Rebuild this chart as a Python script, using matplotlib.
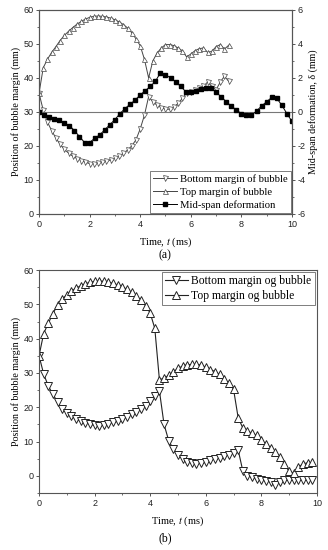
import numpy as np
import matplotlib
matplotlib.use("Agg")
import matplotlib.pyplot as plt
from matplotlib.ticker import MultipleLocator

plt.rcParams['font.family'] = ['Liberation Serif', 'DejaVu Serif']
plt.rcParams['mathtext.fontset'] = 'stix'
plt.rcParams['axes.unicode_minus'] = False

# ---- panel (a) data ----
a_top = [35.5, 43, 45.5, 47.5, 49.2, 51, 52.5, 53.7, 54.8, 55.8, 56.6, 57.3,
         57.8, 58.1, 58.2, 58.1, 57.9, 57.6, 57.1, 56.5, 55.7, 54.7, 53.3, 51.5,
         49.5, 45.5, 40, 45, 47.3, 48.8, 49.8, 49.8, 49.5, 48.8, 48, 46.2,
         47, 48, 48.6, 48.8, 47.5, 47.8, 49.2, 49.8, 48.5, 49.6]
a_bottom = [35.5, 30.5, 27, 24.5, 22.3, 20.5, 19, 17.9, 17, 16.3, 15.7, 15.2,
            14.8, 14.8, 15, 15.2, 15.5, 15.9, 16.4, 17, 17.8, 18.8, 20, 21.8,
            25, 29, 34.5, 33, 32, 31.3, 30.8, 30.8, 31.5, 32.5, 34, 35.5,
            36, 36.5, 37, 37.5, 38.8, 37.5, 36.5, 38.8, 40.5, 39]
a_mid = [0.0, -0.2, -0.3, -0.42, -0.5, -0.65, -0.8, -1.1, -1.45, -1.8, -1.8,
         -1.55, -1.35, -1.05, -0.75, -0.45, -0.1, 0.2, 0.45, 0.7, 1.0, 1.25,
         1.5, 1.8, 2.3, 2.2, 2.0, 1.78, 1.5, 1.2, 1.15, 1.25, 1.35, 1.43, 1.4,
         1.15, 0.9, 0.6, 0.35, 0.12, -0.1, -0.2, -0.2, 0.05, 0.35, 0.6, 0.85,
         0.8, 0.4, -0.1, -0.55]

# ---- panel (b) data ----
b_top = [35, 41.5, 44.5, 47.3, 49.8, 51.5, 52.8, 53.9, 54.7, 55.4, 56, 56.4,
         56.7, 56.8, 56.7, 56.5, 56.1, 55.7, 55.1, 54.4, 53.5, 52.5, 51.2, 49.6,
         47.5, 43, 28, 28.5, 29.3, 30.3, 31.3, 32, 32.4, 32.5, 32.5, 32.3,
         31.7, 31, 30.4, 29.6, 28.2, 27, 25.3, 17, 14, 13, 12.5, 11.8,
         10.5, 9.2, 8.2, 7, 5.5, 3.5, 1.3, 0.8, 2.5, 3.5, 3.8, 3.9]
b_bottom = [35, 29.7, 26.2, 23.8, 21.5, 19.6, 18.3, 17.4, 16.5, 15.9, 15.5, 15.1,
            14.7, 14.6, 14.9, 15.2, 15.6, 15.9, 16.5, 17.2, 18, 18.6, 19.6, 20.5,
            21.8, 23.3, 24.8, 15, 10.3, 7.8, 6.2, 5, 4.1, 3.7, 3.5, 3.7,
            3.9, 4.5, 4.9, 5.3, 5.7, 6.1, 6.6, 7.6, 1.5, 0.1, -0.4, -0.8,
            -1.2, -1.4, -1.8, -2.6, -1.8, -1.3, -1.2, -1.2, -1.2, -1.2, -1.2, -1.2]

frame = '#555555'


def style_axis(ax):
    for s in ax.spines.values():
        s.set_color(frame)
        s.set_linewidth(0.8)
    ax.tick_params(which='both', direction='out', colors=frame, labelcolor='#222222',
                   labelsize=6.5, pad=1.5)
    ax.tick_params(which='major', length=2.5, width=0.7)
    ax.tick_params(which='minor', length=1.5, width=0.6)
    ax.xaxis.set_major_locator(MultipleLocator(2))
    ax.xaxis.set_minor_locator(MultipleLocator(1))
    for lab in ax.get_xticklabels() + ax.get_yticklabels():
        lab.set_family('Liberation Sans')


fig = plt.figure(figsize=(3.28, 5.5), dpi=100)

# panel (a)
ax1 = fig.add_axes([0.119, 0.611, 0.771, 0.371])
t_a = np.arange(len(a_top)) / 6.0
t_mid = np.arange(len(a_mid)) * 0.2
l1, = ax1.plot(t_a, a_bottom, color='#444444', lw=0.7, marker='v', ms=3.6,
               mfc='white', mec='#444444', mew=0.5, label='Bottom margin of bubble')
l2, = ax1.plot(t_a, a_top, color='#444444', lw=0.7, marker='^', ms=3.6,
               mfc='white', mec='#444444', mew=0.5, label='Top margin of bubble')
ax1.set_xlim(0, 10)
ax1.set_ylim(0, 60)
ax1.yaxis.set_major_locator(MultipleLocator(10))
ax1.yaxis.set_minor_locator(MultipleLocator(5))
style_axis(ax1)
ax1.set_ylabel('Position of bubble margin (mm)', fontsize=7.2, labelpad=2)
ax1.set_xlabel('Time, $t$ (ms)', fontsize=7.5, labelpad=5)

ax1r = ax1.twinx()
ax1r.axhline(0, color='#777777', lw=0.8)
l3, = ax1r.plot(t_mid, a_mid, color='black', lw=0.7, marker='s', ms=3.2,
                mfc='black', mec='black', label='Mid-span deformation')
ax1r.set_ylim(-6, 6)
ax1r.yaxis.set_major_locator(MultipleLocator(2))
ax1r.yaxis.set_minor_locator(MultipleLocator(1))
style_axis(ax1r)
ax1r.set_ylabel('Mid-span deformation, δ (mm)', fontsize=7.2, labelpad=2)
leg = ax1r.legend(handles=[l1, l2, l3], loc='lower right', fontsize=7.7,
                  frameon=True, fancybox=False, edgecolor='#444444',
                  borderpad=0.3, labelspacing=0.3, handlelength=2.2,
                  handletextpad=0.3, borderaxespad=0.1)
leg.get_frame().set_linewidth(0.6)
fig.text(0.503, 0.535, '(a)', ha='center', va='center', fontsize=8.5)

# panel (b)
ax2 = fig.add_axes([0.119, 0.1036, 0.847, 0.4054])
t_b = np.arange(len(b_top)) / 6.0
k1, = ax2.plot(t_b, b_bottom, color='#222222', lw=0.8, marker='v', ms=5.5,
               mfc='white', mec='#222222', mew=0.7, label='Bottom margin og bubble')
k2, = ax2.plot(t_b, b_top, color='#222222', lw=0.8, marker='^', ms=5.5,
               mfc='white', mec='#222222', mew=0.7, label='Top margin og bubble')
ax2.set_xlim(0, 10)
ax2.set_ylim(-5, 60)
ax2.yaxis.set_major_locator(MultipleLocator(10))
ax2.yaxis.set_minor_locator(MultipleLocator(5))
style_axis(ax2)
ax2.set_ylabel('Position of bubble margin (mm)', fontsize=7.2, labelpad=2)
ax2.set_xlabel('Time, $t$ (ms)', fontsize=7.5, labelpad=5)
leg2 = ax2.legend(handles=[k1, k2], loc='upper right', fontsize=8.4,
                  frameon=True, fancybox=False, edgecolor='#444444',
                  borderpad=0.25, labelspacing=0.2, handlelength=2.0,
                  handletextpad=0.3, borderaxespad=0.2)
leg2.get_frame().set_linewidth(0.6)
fig.text(0.503, 0.022, '(b)', ha='center', va='center', fontsize=8.5)

fig.savefig('out.png', dpi=100)
